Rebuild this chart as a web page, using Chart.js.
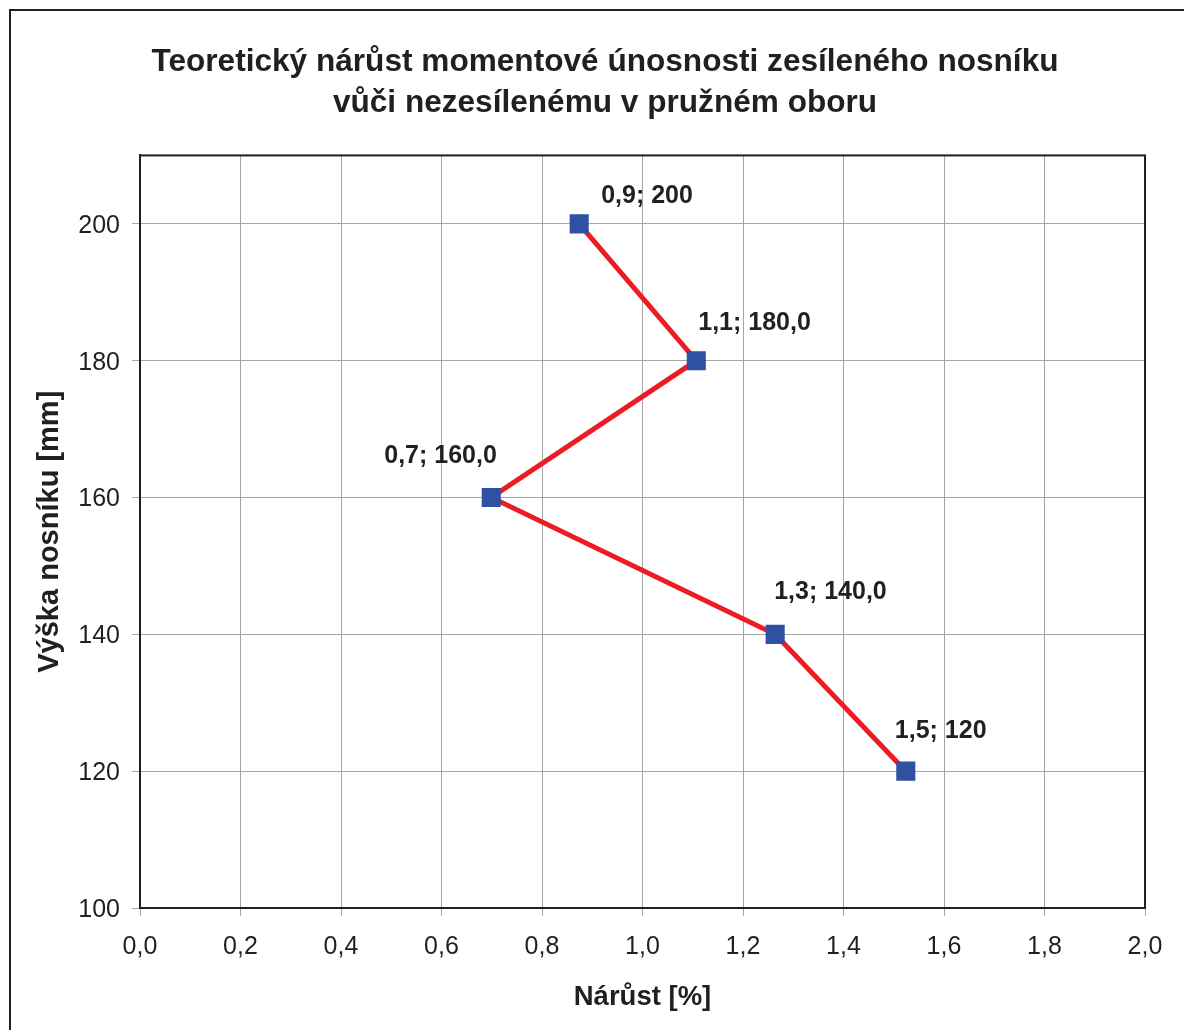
<!DOCTYPE html>
<html>
<head>
<meta charset="utf-8">
<script src="https://cdn.jsdelivr.net/npm/chart.js@4/dist/chart.umd.min.js"></script>
<style>
  html, body { margin: 0; padding: 0; background: #fff; }
  #wrap { width: 1184px; height: 1030px; }
</style>
</head>
<body>
<div id="wrap"><canvas id="chart" width="1184" height="1030"></canvas></div>
<script>
// hodnoty
var narust = [0.874, 1.107, 0.699, 1.264, 1.524];
var vyska = [200, 180, 160, 140, 120];
var popisky = ['0,9; 200', '1,1; 180,0', '0,7; 160,0', '1,3; 140,0', '1,5; 120'];
// posun popisků od bodu (px)
var posunX = [22, 2, -107, -1, -11];
var posunY = [-28, -38, -41, -42, -40];

var FONT = '"Liberation Sans", Arial, sans-serif';
var TEXT = '#231f20';

function carka(v) {
  return Number(v).toFixed(1).replace('.', ',');
}

var ramecek = {
  id: 'ramecek',
  afterLayout: function (chart) {
    // titulek je v originále posunutý doprava
    chart.titleBlock.left = 65;
    chart.titleBlock.right = 1145;
  },
  afterDatasetsDraw: function (chart) {
    var ctx = chart.ctx, a = chart.chartArea;
    ctx.save();
    ctx.strokeStyle = TEXT;
    ctx.lineWidth = 2;
    ctx.strokeRect(a.left, a.top, a.right - a.left, a.bottom - a.top);
    ctx.strokeRect(10, 10, 1200, 1100);
    // popisky bodů
    var meta = chart.getDatasetMeta(0);
    ctx.font = 'bold 25px ' + FONT;
    ctx.fillStyle = TEXT;
    ctx.textBaseline = 'middle';
    ctx.textAlign = 'left';
    meta.data.forEach(function (pt, i) {
      ctx.fillText(popisky[i], pt.x + posunX[i], pt.y + posunY[i]);
    });
    ctx.restore();
  }
};

var body = narust.map(function (x, i) { return { x: x, y: vyska[i] }; });

new Chart(document.getElementById('chart').getContext('2d'), {
  type: 'scatter',
  data: {
    datasets: [{
      data: body,
      showLine: true,
      borderColor: '#ed1c24',
      borderWidth: 5,
      pointStyle: 'rect',
      pointRadius: 13.5,
      pointHoverRadius: 13.5,
      pointBackgroundColor: '#2e51a2',
      pointBorderColor: '#2e51a2',
      pointBorderWidth: 0
    }]
  },
  options: {
    responsive: false,
    animation: false,
    layout: { padding: { left: 10, right: 39, top: 10, bottom: 0 } },
    plugins: {
      legend: { display: false },
      tooltip: { enabled: false },
      title: {
        display: true,
        text: ['Teoretický nárůst momentové únosnosti zesíleného nosníku', 'vůči nezesílenému v pružném oboru'],
        color: TEXT,
        font: { family: FONT, size: 31.6, weight: 'bold', lineHeight: 1.32 },
        padding: { top: 31, bottom: 31 }
      }
    },
    scales: {
      x: {
        type: 'linear',
        min: 0,
        max: 2,
        afterFit: function (s) { s.height = 122; },
        ticks: {
          stepSize: 0.2,
          color: TEXT,
          padding: 16,
          font: { family: FONT, size: 25 },
          callback: function (v) { return carka(v); }
        },
        grid: { color: '#a6a6a6', lineWidth: 1, tickLength: 8 },
        border: { color: TEXT, width: 2 },
        title: {
          display: true,
          text: 'Nárůst [%]',
          color: TEXT,
          font: { family: FONT, size: 27.5, weight: 'bold' },
          padding: { top: 0, bottom: 16.5 }
        }
      },
      y: {
        type: 'linear',
        min: 100,
        max: 210,
        afterFit: function (s) { s.width = 130; },
        afterBuildTicks: function (s) {
          s.ticks = s.ticks.filter(function (t) { return t.value % 20 === 0; });
        },
        ticks: {
          stepSize: 20,
          color: TEXT,
          padding: 12,
          labelOffset: 2,
          font: { family: FONT, size: 25 }
        },
        grid: { color: '#a6a6a6', lineWidth: 1, tickLength: 8 },
        border: { color: TEXT, width: 2 },
        title: {
          display: true,
          text: 'Výška nosníku [mm]',
          color: TEXT,
          font: { family: FONT, size: 29, weight: 'bold' },
          padding: { top: 22.5, bottom: 0 }
        }
      }
    }
  },
  plugins: [ramecek]
});
</script>
</body>
</html>
